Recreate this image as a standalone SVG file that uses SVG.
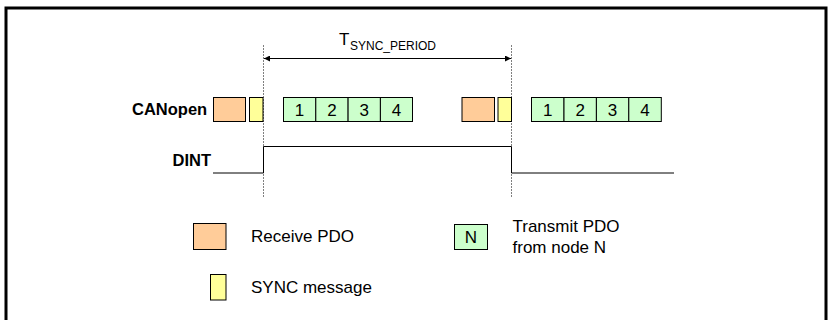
<svg xmlns="http://www.w3.org/2000/svg" width="829" height="320" viewBox="0 0 829 320">
<style>
text{font-family:"Liberation Sans",Arial,sans-serif;fill:#000}
.lbl{font-size:16.5px;font-weight:bold}
.t{font-size:17px}
.num{font-size:17px;text-anchor:middle}
.rx{fill:#FFCC99;stroke:#000;stroke-width:1}
.sy{fill:#FFFF99;stroke:#000;stroke-width:1}
.tx{fill:#CCFFCC;stroke:#000;stroke-width:1}
.dash{stroke:#808080;stroke-width:1;stroke-dasharray:2 1;fill:none}
</style>
<defs>
<marker id="ah" viewBox="0 0 10 10" refX="10" refY="5" markerWidth="9" markerHeight="6" markerUnits="userSpaceOnUse" orient="auto-start-reverse">
<path d="M0,0 L10,5 L0,10 z" fill="#000"/>
</marker>
</defs>
<rect width="829" height="320" fill="#fff"/>
<path d="M6,330 V8 H826 V330" fill="none" stroke="#000" stroke-width="3"/>

<g id="connectors">
<line class="dash" x1="263.5" y1="45" x2="263.5" y2="198"/>
<line class="dash" x1="511.5" y1="45" x2="511.5" y2="198"/>
<line x1="264" y1="58.5" x2="511" y2="58.5" stroke="#000" stroke-width="1" marker-start="url(#ah)" marker-end="url(#ah)"/>
<polyline points="213,173 263.5,173 263.5,146.5 511.5,146.5 511.5,173 674,173" fill="none" stroke="#000" stroke-width="1"/>
</g>

<g id="period-label">
<text x="339" y="45" style="font-size:17px">T</text>
<text x="350" y="50" style="font-size:12px">SYNC_PERIOD</text>
</g>

<g id="canopen-label"><text class="lbl" x="132" y="115">CANopen</text></g>
<g id="dint-label"><text class="lbl" x="172.5" y="165.5">DINT</text></g>

<g id="cycle1">
<rect class="rx" x="213.5" y="97.5" width="32" height="24"/>
<rect class="sy" x="249.5" y="97.5" width="13.5" height="24"/>
<rect class="tx" x="283.5" y="97.5" width="32.3" height="24"/>
<rect class="tx" x="315.8" y="97.5" width="32.3" height="24"/>
<rect class="tx" x="348.1" y="97.5" width="32.3" height="24"/>
<rect class="tx" x="380.4" y="97.5" width="32.1" height="24"/>
<text class="num" x="299.6" y="115.5">1</text>
<text class="num" x="331.9" y="115.5">2</text>
<text class="num" x="364.2" y="115.5">3</text>
<text class="num" x="396.5" y="115.5">4</text>
</g>

<g id="cycle2">
<rect class="rx" x="462" y="97.5" width="32.5" height="24"/>
<rect class="sy" x="498" y="97.5" width="13.5" height="24"/>
<rect class="tx" x="531.5" y="97.5" width="32.5" height="24"/>
<rect class="tx" x="564" y="97.5" width="32.4" height="24"/>
<rect class="tx" x="596.4" y="97.5" width="32.4" height="24"/>
<rect class="tx" x="628.8" y="97.5" width="32.5" height="24"/>
<text class="num" x="547.7" y="115.5">1</text>
<text class="num" x="580.2" y="115.5">2</text>
<text class="num" x="612.6" y="115.5">3</text>
<text class="num" x="645" y="115.5">4</text>
</g>

<g id="legend-receive">
<rect class="rx" x="193.5" y="223.5" width="32.5" height="26"/>
<text class="t" x="251" y="241.5">Receive PDO</text>
</g>
<g id="legend-sync">
<rect class="sy" x="210.5" y="274.5" width="15.5" height="25.5"/>
<text class="t" x="251" y="292.5">SYNC message</text>
</g>
<g id="legend-transmit">
<rect class="tx" x="454.5" y="224.5" width="33" height="25"/>
<text class="num" x="471" y="243">N</text>
<text class="t" x="512.5" y="231.5">Transmit PDO</text>
<text class="t" x="512.5" y="252.5">from node N</text>
</g>
</svg>
